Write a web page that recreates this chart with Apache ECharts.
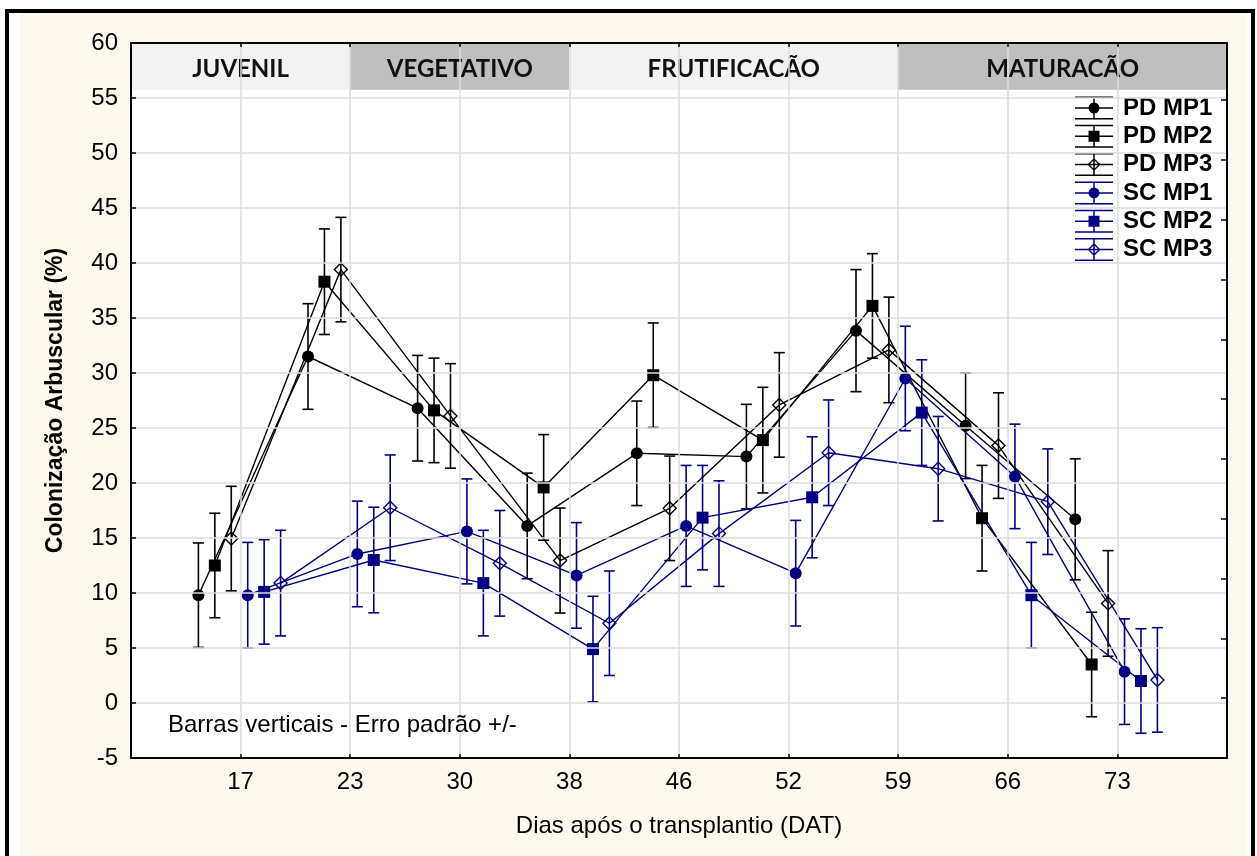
<!DOCTYPE html>
<html><head><meta charset="utf-8">
<script src="https://cdn.jsdelivr.net/npm/echarts/dist/echarts.min.js"></script>
<style>
html,body{margin:0;padding:0;background:#fff;width:1257px;height:856px;overflow:hidden;}
#bg{position:absolute;left:20px;top:13px;width:1227px;height:843px;background:#fdf9ee;}
#frame{position:absolute;left:5px;top:9px;width:1250px;height:900px;border:4px solid #000;box-sizing:border-box;}
#chart{position:absolute;left:0;top:0;width:1257px;height:856px;}
</style></head><body>
<div id="bg"></div><div id="frame"></div><div id="chart"></div>
<script>
// ---- data ----
const days = ['17','23','30','38','46','52','59','66','73'];
const seriesNames = ['PD MP1','PD MP2','PD MP3','SC MP1','SC MP2','SC MP3'];
const pdMp1   = [9.8, 31.5, 26.8, 16.1, 22.7, 22.4, 33.85, 25.2, 16.7];
const pdMp1Se = [4.75, 4.8, 4.8, 4.8, 4.75, 4.75, 5.55, 4.8, 5.5];
const pdMp2   = [12.5, 38.3, 26.6, 19.6, 29.8, 23.9, 36.1, 16.8, 3.5];
const pdMp2Se = [4.75, 4.8, 4.75, 4.8, 4.75, 4.8, 4.75, 4.8, 4.75];
const pdMp3   = [14.95, 39.4, 26.1, 12.95, 17.7, 27.1, 32.1, 23.4, 9.05];
const pdMp3Se = [4.75, 4.75, 4.75, 4.77, 4.75, 4.75, 4.8, 4.8, 4.8];
const scMp1   = [9.8, 13.55, 15.6, 11.6, 16.1, 11.8, 29.5, 20.6, 2.85];
const scMp1Se = [4.8, 4.8, 4.77, 4.8, 5.5, 4.8, 4.75, 4.75, 4.8];
const scMp2   = [10.1, 13.0, 10.9, 4.9, 16.85, 18.7, 26.4, 9.8, 2.0];
const scMp2Se = [4.75, 4.8, 4.8, 4.8, 4.75, 5.5, 4.8, 4.8, 4.75];
const scMp3   = [10.9, 17.75, 12.7, 7.25, 15.4, 22.75, 21.3, 18.3, 2.1];
const scMp3Se = [4.8, 4.8, 4.8, 4.75, 4.8, 4.8, 4.75, 4.8, 4.75];
const phaseNames  = ['JUVENIL', 'VEGETATIVO', 'FRUTIFICACÃO', 'MATURACÃO'];
const phaseBounds = [0, 2, 4, 7, 10];

// ---- styles ----
const means = [pdMp1, pdMp2, pdMp3, scMp1, scMp2, scMp3];
const ses = [pdMp1Se, pdMp2Se, pdMp3Se, scMp1Se, scMp2Se, scMp3Se];
const BLACK = '#000000', NAVY = '#000080';
const colors = [BLACK, BLACK, BLACK, NAVY, NAVY, NAVY];
const symbols = ['circle', 'rect', 'diamond', 'circle', 'rect', 'diamond'];
const symbolSizes = [12, 12, [13, 13], 12, 12, [13, 13]];
const hollow = [false, false, true, false, false, true];
const offsets = [-0.385, -0.235, -0.085, 0.065, 0.215, 0.365];
const FONT = "'Liberation Sans', Arial, sans-serif";

const lines = 'M0,0 H38 V1.5 H0 Z M0,21.5 H38 V23 H0 Z M0,10.75 H38 V12.25 H0 Z M18.25,0 H19.75 V23 H18.25 Z ';
const mk = {
  circle: 'M13.5,11.5 A5.5,5.5 0 1,1 24.5,11.5 A5.5,5.5 0 1,1 13.5,11.5 Z',
  rect: 'M13.5,6 H24.5 V17 H13.5 Z',
  diamond: 'M19,5 L25.5,11.5 L19,18 L12.5,11.5 Z M19,6.9 L14.4,11.5 L19,16.1 L23.6,11.5 Z'
};
const icons = symbols.map(s => 'path://' + lines + mk[s]);

const chart = echarts.init(document.getElementById('chart'), null, {renderer: 'canvas'});

const series = [];
seriesNames.forEach((name, k) => {
  const c = colors[k];
  series.push({
    type: 'custom', name: 'err ' + name, silent: true, z: 3, animation: false,
    data: means[k].map((v, i) => [i + 1 + offsets[k], v - ses[k][i], v + ses[k][i]]),
    encode: {x: 0, y: [1, 2]},
    renderItem: (params, api) => {
      const x = api.value(0);
      const lo = api.coord([x, api.value(1)]);
      const hi = api.coord([x, api.value(2)]);
      const hw = 5.5;
      const st = {stroke: c, lineWidth: 1.6, fill: null};
      return {type: 'group', children: [
        {type: 'line', shape: {x1: lo[0], y1: lo[1], x2: hi[0], y2: hi[1]}, style: st},
        {type: 'line', shape: {x1: lo[0] - hw, y1: lo[1], x2: lo[0] + hw, y2: lo[1]}, style: st},
        {type: 'line', shape: {x1: hi[0] - hw, y1: hi[1], x2: hi[0] + hw, y2: hi[1]}, style: st}
      ]};
    }
  });
  const s = {
    type: 'line', name: name, z: 4, animation: false, silent: true,
    data: means[k].map((v, i) => [i + 1 + offsets[k], v]),
    symbol: symbols[k], symbolSize: symbolSizes[k], showSymbol: true, showAllSymbol: true,
    itemStyle: hollow[k] ? {color: 'rgba(255,255,255,0)', borderColor: c, borderWidth: 1.4}
                         : {color: c, borderWidth: 0},
    lineStyle: {color: c, width: 1.4},
    emphasis: {disabled: true}
  };
  if (k === 0) {
    s.markArea = {
      silent: true,
      label: {show: true, position: 'inside', fontFamily: "Lato, 'Open Sans', sans-serif",
              fontWeight: 'bold', fontSize: 24, color: '#111', offset: [0, 3]},
      data: phaseNames.map((p, j) => [
        {xAxis: phaseBounds[j], yAxis: 55.75, name: p,
         itemStyle: {color: j % 2 ? '#bfbfbf' : '#f2f2f2', opacity: 1}},
        {xAxis: phaseBounds[j + 1], yAxis: 60}
      ])
    };
  }
  series.push(s);
});

const axisLineStyle = {show: true, onZero: false, lineStyle: {color: '#000', width: 2}};
chart.setOption({
  backgroundColor: 'transparent',
  animation: false,
  grid: {left: 131, right: 30, top: 43, bottom: 98, show: true, backgroundColor: '#ffffff',
         borderWidth: 0, outerBoundsMode: 'none', containLabel: false},
  legend: {
    orient: 'vertical', left: 1070, top: 91, itemWidth: 38, itemHeight: 23, itemGap: 4.3,
    selectedMode: false, symbolKeepAspect: false,
    textStyle: {fontFamily: FONT, fontWeight: 'bold', fontSize: 24, color: '#000', padding: [0, 0, 0, 5]},
    data: seriesNames.map((n, k) => ({name: n, icon: icons[k],
      itemStyle: {color: colors[k], borderWidth: 0, opacity: 1}}))
  },
  xAxis: [{
    type: 'value', min: 0, max: 10, interval: 1, position: 'bottom', z: 5,
    axisLine: axisLineStyle,
    axisTick: {show: true, inside: true, length: 4, lineStyle: {color: '#000', width: 1.5}},
    axisLabel: {fontFamily: FONT, fontSize: 24, color: '#000', margin: 12,
                formatter: v => (v >= 1 && v <= days.length) ? days[v - 1] : ''},
    splitLine: {show: true, lineStyle: {color: '#dcdcdc', width: 1.5}},
    name: 'Dias após o transplantio (DAT)', nameLocation: 'middle', nameGap: 56,
    nameTextStyle: {fontFamily: FONT, fontSize: 24, color: '#000', verticalAlign: 'top'}
  }, {
    type: 'value', min: 0, max: 10, interval: 1, position: 'top', z: 5,
    axisLine: axisLineStyle,
    axisTick: {show: true, inside: true, length: 4, lineStyle: {color: '#000', width: 1.5}},
    axisLabel: {show: false}, splitLine: {show: false}
  }],
  yAxis: [{
    type: 'value', min: -5, max: 60, interval: 5, position: 'left', z: 5,
    axisLine: axisLineStyle,
    axisTick: {show: true, inside: true, length: 5, lineStyle: {color: '#000', width: 1.5}},
    axisLabel: {fontFamily: FONT, fontSize: 24, color: '#000', margin: 13},
    splitLine: {show: true, lineStyle: {color: '#dcdcdc', width: 1.5}},
    name: 'Colonização Arbuscular (%)', nameLocation: 'middle', nameGap: 64,
    nameTextStyle: {fontFamily: FONT, fontSize: 23, fontWeight: 'bold', color: '#000'}
  }, {
    type: 'value', min: 0, max: 11.956, interval: 1, position: 'right', z: 5,
    axisLine: axisLineStyle,
    axisTick: {show: true, inside: true, length: 6, lineStyle: {color: '#000', width: 1.5}},
    axisLabel: {show: false}, splitLine: {show: false}
  }],
  graphic: [{
    type: 'text', x: 168, y: 725, z: 10, silent: true,
    style: {text: 'Barras verticais - Erro padrão +/-', fontFamily: FONT, fontSize: 24,
            fill: '#000', verticalAlign: 'middle'}
  }],
  series: series
});
</script>
</body></html>
